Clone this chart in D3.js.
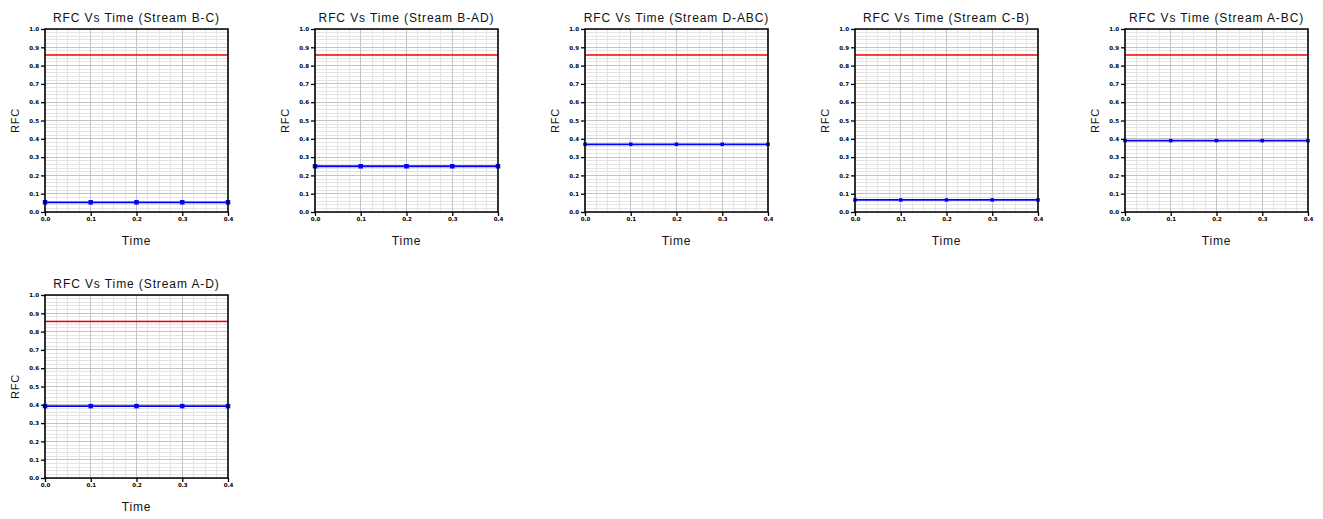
<!DOCTYPE html>
<html><head><meta charset="utf-8">
<script src="https://cdn.jsdelivr.net/npm/d3@7"></script>
<style>body{margin:0;background:#fff;} svg{display:block;}</style>
</head><body>
<svg id="c" width="1323" height="519"></svg>
<script>
const streams = ["B-C", "B-AD", "D-ABC", "C-B", "A-BC", "A-D"];
const timeTicks = [0.0, 0.1, 0.2, 0.3, 0.4];
const timeTickLabels = ["0.0", "0.1", "0.2", "0.3", "0.4"];
const rfcTicks = [0.0,0.1,0.2,0.3,0.4,0.5,0.6,0.7,0.8,0.9,1.0];
const rfcLimit = [0.858, 0.858, 0.858, 0.858, 0.858, 0.855];
const rfcB_C   = [0.053, 0.053, 0.053, 0.053, 0.053];
const rfcB_AD  = [0.25, 0.25, 0.25, 0.25, 0.25];
const rfcD_ABC = [0.37, 0.37, 0.37, 0.37, 0.37];
const rfcC_B   = [0.066, 0.066, 0.066, 0.066, 0.066];
const rfcA_BC  = [0.39, 0.39, 0.39, 0.39, 0.39];
const rfcA_D   = [0.393, 0.393, 0.393, 0.393, 0.393];
const seriesValues = [rfcB_C, rfcB_AD, rfcD_ABC, rfcC_B, rfcA_BC, rfcA_D];

const svg = d3.select("#c");
const pw = 183, ph = 183;
const panels = streams.map((s,i)=>({name:s, vals:seriesValues[i], limit:rfcLimit[i],
  ox: 45 + (i%5)*270, oy: (i<5?29:295)}));

panels.forEach((p,i)=>{
  const g = svg.append("g").attr("transform",`translate(${p.ox},${p.oy})`);
  const x = d3.scaleLinear().domain([timeTicks[0], timeTicks[timeTicks.length-1]]).range([0,pw]);
  const y = d3.scaleLinear().domain([0,1]).range([ph,0]);
  const minorX = d3.range(0, 17).map(k=> timeTicks[0] + k*(timeTicks[4]-timeTicks[0])/16);
  const minorY = d3.range(0, 51).map(k=>k/50);
  g.append("g").selectAll("line").data(minorY).join("line")
    .attr("x1",0).attr("x2",pw).attr("y1",d=>y(d)).attr("y2",d=>y(d))
    .attr("stroke","#e4e4e4").attr("stroke-width",1).attr("shape-rendering","crispEdges");
  g.append("g").selectAll("line").data(minorX).join("line")
    .attr("y1",0).attr("y2",ph).attr("x1",d=>x(d)).attr("x2",d=>x(d))
    .attr("stroke","#e4e4e4").attr("stroke-width",1).attr("shape-rendering","crispEdges");
  g.append("g").selectAll("line").data(rfcTicks).join("line")
    .attr("x1",0).attr("x2",pw).attr("y1",d=>y(d)).attr("y2",d=>y(d))
    .attr("stroke","#c4c4c4").attr("stroke-width",1).attr("shape-rendering","crispEdges");
  g.append("g").selectAll("line").data(timeTicks).join("line")
    .attr("y1",0).attr("y2",ph).attr("x1",d=>x(d)).attr("x2",d=>x(d))
    .attr("stroke","#c4c4c4").attr("stroke-width",1.2).attr("shape-rendering","crispEdges");
  const line = d3.line().x((d,k)=>x(timeTicks[k])).y(d=>y(d));
  g.append("path").datum(timeTicks.map(()=>p.limit)).attr("d",line)
    .attr("fill","none").attr("stroke","#ff0000").attr("stroke-width",1.6);
  g.append("path").datum(p.vals).attr("d",line)
    .attr("fill","none").attr("stroke","#0000ff").attr("stroke-width",1.8);
  const ms = (i===2||i===3||i===4)?3.5:4.5;
  g.append("g").selectAll("rect").data(p.vals).join("rect")
    .attr("x",(d,k)=>x(timeTicks[k])-ms/2).attr("y",d=>y(d)-ms/2)
    .attr("width",ms).attr("height",ms).attr("fill","#0000ff");
  g.append("rect").attr("x",0).attr("y",0).attr("width",pw).attr("height",ph)
    .attr("fill","none").attr("stroke","#000").attr("stroke-width",1.5);
  const ya = d3.axisLeft(y).tickValues(rfcTicks).tickSize(4).tickPadding(2).tickFormat(d3.format(".1f"));
  const yg = g.append("g").call(ya);
  yg.select(".domain").remove();
  yg.selectAll("line").attr("stroke","#000").attr("stroke-width",1.3);
  yg.selectAll("text").attr("font-family","DejaVu Sans").attr("font-size",5.5).attr("font-weight","bold").attr("fill","#000");
  const xa = d3.axisBottom(x).tickValues(timeTicks).tickSize(4).tickPadding(1).tickFormat((d,k)=>timeTickLabels[k]);
  const xg = g.append("g").attr("transform",`translate(0,${ph})`).call(xa);
  xg.select(".domain").remove();
  xg.selectAll("line").attr("stroke","#000").attr("stroke-width",1.3);
  xg.selectAll("text").attr("font-family","DejaVu Sans").attr("font-size",5.5).attr("font-weight","bold").attr("fill","#000");
  g.append("text").attr("x",pw/2).attr("y",-7).attr("text-anchor","middle")
    .attr("font-family","Liberation Sans, Arial").attr("font-size",12).attr("letter-spacing",0.9).attr("fill","#111")
    .text(`RFC Vs Time (Stream  ${p.name})`);
  g.append("text").attr("x",pw/2).attr("y",ph+33).attr("text-anchor","middle")
    .attr("font-family","Liberation Sans, Arial").attr("font-size",12).attr("letter-spacing",0.8).attr("fill","#111").text("Time");
  g.append("text").attr("transform",`translate(-26,${ph/2}) rotate(-90)`).attr("text-anchor","middle")
    .attr("font-family","Liberation Sans, Arial").attr("font-size",11).attr("letter-spacing",0.8).attr("fill","#111").text("RFC");
});
</script>
</body></html>
